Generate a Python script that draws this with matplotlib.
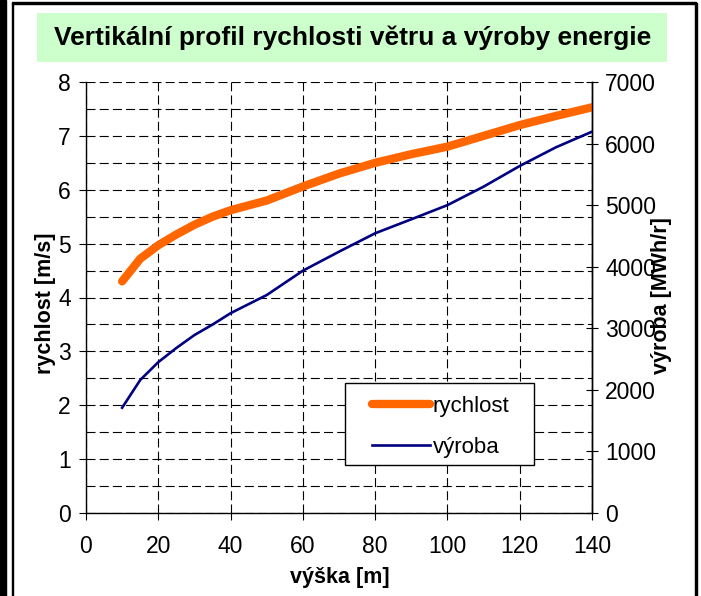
import matplotlib
matplotlib.use("Agg")
import matplotlib.pyplot as plt
from matplotlib.patches import Rectangle
from matplotlib.ticker import MultipleLocator

plt.rcParams['font.family'] = ['Liberation Sans', 'DejaVu Sans']
plt.rcParams['lines.scale_dashes'] = False

# ---- data ----
vyska = [10, 15, 20, 25, 30, 35, 40, 50, 60, 70, 80, 90, 100, 110, 120, 130, 140]
rychlost = [4.30, 4.72, 4.97, 5.17, 5.35, 5.50, 5.62, 5.80, 6.06, 6.30, 6.50, 6.66, 6.80, 7.00, 7.20, 7.37, 7.53]
vyroba = [1710, 2160, 2450, 2680, 2890, 3060, 3245, 3540, 3935, 4244, 4543, 4770, 5000, 5300, 5636, 5939, 6193]
x_ticks = [0, 20, 40, 60, 80, 100, 120, 140]
left_ticks = [0, 1, 2, 3, 4, 5, 6, 7, 8]
right_ticks = [0, 1000, 2000, 3000, 4000, 5000, 6000, 7000]

title = "Vertikální profil rychlosti větru a výroby energie"
xlabel = "výška [m]"
ylabel_left = "rychlost [m/s]"
ylabel_right = "výroba [MWh/r]"

W, H = 701, 596
fig = plt.figure(figsize=(W / 100, H / 100), dpi=100)

def fx(px):
    return px / W

def fy(py):
    return 1 - py / H

# frame decorations
fig.patches.append(Rectangle((0, 0), fx(6), 1, transform=fig.transFigure, color='black', zorder=0))
fig.patches.append(Rectangle((fx(11.5), 0), fx(1.5), fy(3), transform=fig.transFigure, color='black', zorder=0))
fig.patches.append(Rectangle((fx(11.5), fy(4)), fx(696 - 11.5), 1.5 / H, transform=fig.transFigure, color='black', zorder=0))
fig.patches.append(Rectangle((fx(695), 0), fx(1.5), fy(3), transform=fig.transFigure, color='black', zorder=0))

# title box
fig.patches.append(Rectangle((fx(37), fy(62)), fx(667 - 37), (62 - 13) / H,
                             transform=fig.transFigure, facecolor='#CCFFCC', edgecolor='none', zorder=0))
fig.text(fx(353), fy(38), title, ha='center', va='center', fontsize=19, fontweight='bold')

ax = fig.add_axes([fx(86), fy(513), fx(592 - 86), (513 - 82) / H])
ax2 = ax.twinx()

dash = (0, (6.5, 3.0))
ax.plot(vyska, rychlost, color='#FF6600', lw=6.0, solid_capstyle='round', label='rychlost', zorder=3)
ax2.plot(vyska, vyroba, color='#000080', lw=1.9, label='výroba', zorder=3)

ax.set_xlim(0, 140)
ax.set_ylim(0, 8)
ax2.set_ylim(0, 7000)
ax.set_xticks(x_ticks)
ax.set_yticks(left_ticks)
ax.yaxis.set_minor_locator(MultipleLocator(0.5))
ax2.set_yticks(right_ticks)

ax.grid(True, which='both', color='black', lw=0.8, linestyle=dash)
ax.set_axisbelow(True)

ax.spines['top'].set_visible(False)
ax2.spines['top'].set_visible(False)
ax2.spines['left'].set_visible(False)
ax2.spines['bottom'].set_visible(False)
for a in (ax, ax2):
    for s in a.spines.values():
        s.set_linewidth(1.0)
        s.set_color('black')

TS = 16.5
ax.tick_params(axis='y', which='major', direction='out', length=5, width=0.8, labelsize=TS, pad=6)
ax.tick_params(axis='y', which='minor', length=0)
ax.tick_params(axis='x', which='major', direction='out', length=5, width=0.8, labelsize=TS, pad=11)
ax2.tick_params(axis='y', which='major', direction='inout', length=9, width=0.8, labelsize=TS, pad=5)

LS = 15.5
fig.text(fx(45), fy(303), ylabel_left, rotation=90, ha='center', va='center', fontsize=LS, fontweight='bold')
fig.text(fx(662), fy(296), ylabel_right, rotation=90, ha='center', va='center', fontsize=LS, fontweight='bold')
fig.text(fx(340), fy(577), xlabel, ha='center', va='center', fontsize=LS, fontweight='bold')

# legend box
bx0 = (345 - 86) / 506
bx1 = (534 - 86) / 506
by0 = (513 - 465) / 431
by1 = (513 - 383) / 431
ax2.add_patch(Rectangle((bx0, by0), bx1 - bx0, by1 - by0, transform=ax2.transAxes,
                        facecolor='white', edgecolor='black', lw=1.0, zorder=9))
h1, l1 = ax.get_legend_handles_labels()
h2, l2 = ax2.get_legend_handles_labels()
leg = ax2.legend(h1 + h2, l1 + l2, loc='center',
                 bbox_to_anchor=((bx0 + bx1) / 2 + 0.002, (by0 + by1) / 2 - 0.007),
                 borderaxespad=0, fontsize=16, frameon=False, handlelength=2.65,
                 handletextpad=0.1, labelspacing=0.9, borderpad=0)
leg.set_zorder(10)

fig.savefig('out.png', dpi=100)
